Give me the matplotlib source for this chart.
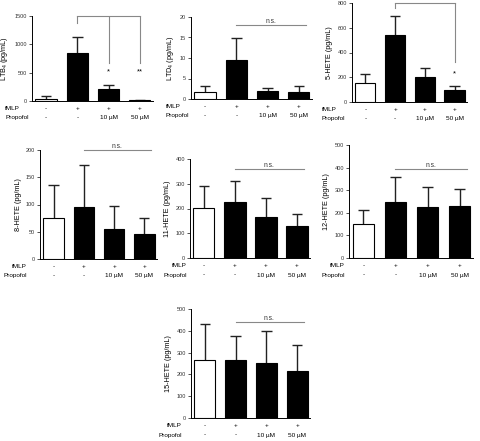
import numpy as np
import matplotlib
matplotlib.use("Agg")
import matplotlib.pyplot as plt

plt.rcParams['font.family'] = ['Liberation Sans', 'DejaVu Sans']
plt.rcParams['mathtext.default'] = 'regular'

# treatment rows under each panel
fmlp_row = ['-', '+', '+', '+']
propofol_row = ['-', '-', '10 µM', '50 µM']

# mean and upper SD per group (control, fMLP, fMLP+10, fMLP+50)
ltb4_mean = [40, 850, 210, 15]
ltb4_sd = [40, 275, 80, 5]
ltd4_mean = [1.8, 9.4, 2.0, 1.7]
ltd4_sd = [1.3, 5.4, 0.7, 1.5]
hete5_mean = [150, 545, 200, 100]
hete5_sd = [75, 150, 75, 32]
hete8_mean = [75, 95, 55, 45]
hete8_sd = [60, 78, 43, 31]
hete11_mean = [203, 225, 167, 130]
hete11_sd = [87, 85, 76, 48]
hete12_mean = [152, 250, 227, 230]
hete12_sd = [61, 110, 86, 75]
hete15_mean = [268, 265, 252, 217]
hete15_sd = [162, 110, 145, 116]

W, H = 481, 441


def px_rect(left, top, right, bottom):
    return [left / W, 1 - bottom / H, (right - left) / W, (bottom - top) / H]


def panel(fig, rect, mean, sd, ylabel, ymax, ystep, lab_x, lab_align):
    ax = fig.add_axes(px_rect(*rect))
    x = np.arange(len(mean))
    colors = ['white', 'black', 'black', 'black']
    ax.bar(x, mean, width=0.68, color=colors, edgecolor='black', linewidth=0.8, zorder=2)
    top = np.array(mean) + np.array(sd)
    ax.vlines(x, mean, top, color='#222222', linewidth=1.0, zorder=1)
    ax.hlines(top, x - 0.17, x + 0.17, color='#222222', linewidth=1.0, zorder=1)
    ax.set_xlim(-0.45, 3.42)
    ax.set_ylim(0, ymax)
    ax.set_yticks(np.arange(0, ymax + ystep / 2, ystep))
    ax.set_xticks([])
    ax.spines['top'].set_visible(False)
    ax.spines['right'].set_visible(False)
    for s in ['left', 'bottom']:
        ax.spines[s].set_linewidth(0.7)
    ax.tick_params(axis='y', direction='out', length=2, width=0.6, labelsize=4, pad=1.5, colors='#333333')
    ax.set_ylabel(ylabel, fontsize=5.2, labelpad=3)
    # treatment labels
    bottom_px = rect[3]
    for i in x:
        xf = ax.transData.transform((i, 0))[0] / fig.dpi / fig.get_figwidth()
        fig.text(xf, 1 - (bottom_px + 7.5) / H, fmlp_row[i], fontsize=4.6, ha='center', va='center')
        fig.text(xf, 1 - (bottom_px + 17) / H, propofol_row[i], fontsize=4.6, ha='center', va='center')
    fig.text(lab_x / W, 1 - (bottom_px + 7.5) / H, 'fMLP', fontsize=4.6, ha=lab_align, va='center')
    fig.text(lab_x / W, 1 - (bottom_px + 17) / H, 'Propofol', fontsize=4.6, ha=lab_align, va='center')
    return ax


def ns_line(ax, y):
    ax.plot([1, 3.22], [y, y], color='#888888', linewidth=0.8, clip_on=False)
    ax.text(2.1, y, 'n.s.', fontsize=4.8, ha='center', va='bottom', color='#333333')


fig = plt.figure(figsize=(W / 100, H / 100), dpi=100)
gray = '#888888'

ax1 = panel(fig, (32, 16, 153, 101), ltb4_mean, ltb4_sd, 'LTB$_4$ (pg/mL)', 1500, 500, 5, 'left')
ax1.plot([1, 3], [1500, 1500], color=gray, linewidth=0.8, clip_on=False)
ax1.plot([1, 1], [1500, 1376], color=gray, linewidth=0.8)
ax1.plot([2, 2], [1500, 670], color=gray, linewidth=0.8)
ax1.plot([3, 3], [1500, 670], color=gray, linewidth=0.8)
ax1.text(2, 520, '*', fontsize=5.5, ha='center', va='center')
ax1.text(3, 520, '**', fontsize=5.5, ha='center', va='center')

ax2 = panel(fig, (191, 17, 312, 99), ltd4_mean, ltd4_sd, 'LTD$_4$ (pg/mL)', 20, 5, 166, 'left')
ns_line(ax2, 18)

ax3 = panel(fig, (352, 3, 467, 102), hete5_mean, hete5_sd, '5-HETE (pg/mL)', 800, 200, 322, 'left')
ax3.plot([1, 3], [800, 800], color=gray, linewidth=0.8, clip_on=False)
ax3.plot([1, 1], [800, 760], color=gray, linewidth=0.8)
ax3.plot([3, 3], [800, 323], color=gray, linewidth=0.8)
ax3.text(3, 226, '*', fontsize=5.5, ha='center', va='center')

ax4 = panel(fig, (40, 150, 157, 259), hete8_mean, hete8_sd, '8-HETE (pg/mL)', 200, 50, 27, 'right')
ns_line(ax4, 200)

ax5 = panel(fig, (190, 159, 310, 258), hete11_mean, hete11_sd, '11-HETE (pg/mL)', 400, 100, 187, 'right')
ns_line(ax5, 360)

ax6 = panel(fig, (349, 145, 473, 258), hete12_mean, hete12_sd, '12-HETE (pg/mL)', 500, 100, 345, 'right')
ns_line(ax6, 394)

ax7 = panel(fig, (191, 309, 310, 418), hete15_mean, hete15_sd, '15-HETE (pg/mL)', 500, 100, 182, 'right')
ns_line(ax7, 440)

fig.savefig('out.png', dpi=100)
